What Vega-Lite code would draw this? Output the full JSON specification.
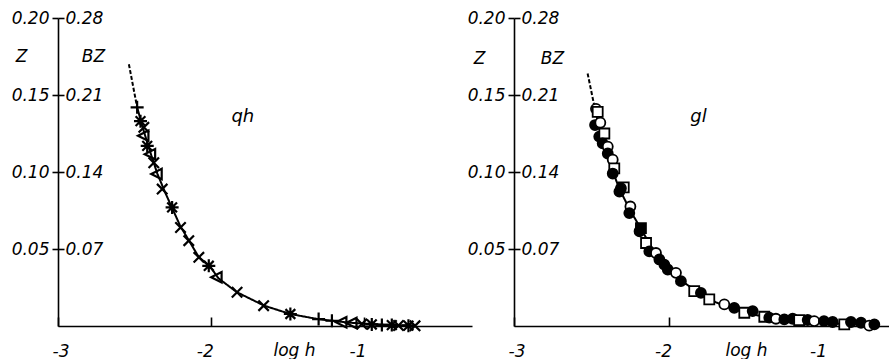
{
  "$schema": "https://vega.github.io/schema/vega-lite/v6.json",
  "padding": {"left": 11, "top": 9, "right": 0, "bottom": 0},
  "background": "white",
  "bounds": "flush",
  "spacing": 42,
  "resolve": {"scale": {"shape": "independent", "fill": "independent", "strokeDash": "independent"}},
  "config": {
    "view": {"stroke": null},
    "font": "DejaVu Sans",
    "axis": {
      "grid": false,
      "labelFont": "DejaVu Sans",
      "labelFontStyle": "italic",
      "labelFontSize": 17,
      "labelColor": "black",
      "titleFont": "DejaVu Sans",
      "titleFontStyle": "italic",
      "titleFontWeight": "normal",
      "titleFontSize": 17,
      "titleColor": "black",
      "domainColor": "black",
      "domainWidth": 1.6,
      "tickColor": "black",
      "tickWidth": 1.6
    }
  },
  "datasets": {
    "qh_curve": [
      {"logh": -2.536, "Z": 0.170, "seg": "dash"},
      {"logh": -2.482, "Z": 0.142, "seg": "dash"},
      {"logh": -2.482, "Z": 0.142, "seg": "solid"},
      {"logh": -2.44, "Z": 0.127, "seg": "solid"},
      {"logh": -2.39, "Z": 0.111, "seg": "solid"},
      {"logh": -2.35, "Z": 0.099, "seg": "solid"},
      {"logh": -2.30, "Z": 0.087, "seg": "solid"},
      {"logh": -2.25, "Z": 0.076, "seg": "solid"},
      {"logh": -2.20, "Z": 0.065, "seg": "solid"},
      {"logh": -2.14, "Z": 0.055, "seg": "solid"},
      {"logh": -2.08, "Z": 0.045, "seg": "solid"},
      {"logh": -2.00, "Z": 0.038, "seg": "solid"},
      {"logh": -1.95, "Z": 0.031, "seg": "solid"},
      {"logh": -1.83, "Z": 0.022, "seg": "solid"},
      {"logh": -1.65, "Z": 0.0132, "seg": "solid"},
      {"logh": -1.48, "Z": 0.0078, "seg": "solid"},
      {"logh": -1.30, "Z": 0.0045, "seg": "solid"},
      {"logh": -1.10, "Z": 0.0022, "seg": "solid"},
      {"logh": -0.90, "Z": 0.0010, "seg": "solid"},
      {"logh": -0.66, "Z": 0.0002, "seg": "solid"}
    ],
    "qh_pts": [
      {"logh": -2.482, "Z": 0.142, "sym": "plus"},
      {"logh": -2.460, "Z": 0.133, "sym": "star"},
      {"logh": -2.438, "Z": 0.129, "sym": "x"},
      {"logh": -2.438, "Z": 0.1235, "sym": "tri"},
      {"logh": -2.416, "Z": 0.117, "sym": "star"},
      {"logh": -2.394, "Z": 0.1116, "sym": "tri"},
      {"logh": -2.373, "Z": 0.106, "sym": "x"},
      {"logh": -2.351, "Z": 0.0987, "sym": "tri"},
      {"logh": -2.318, "Z": 0.0889, "sym": "x"},
      {"logh": -2.253, "Z": 0.077, "sym": "star"},
      {"logh": -2.198, "Z": 0.064, "sym": "x"},
      {"logh": -2.144, "Z": 0.0554, "sym": "x"},
      {"logh": -2.078, "Z": 0.0446, "sym": "x"},
      {"logh": -2.013, "Z": 0.0391, "sym": "star"},
      {"logh": -1.959, "Z": 0.0316, "sym": "tri"},
      {"logh": -1.828, "Z": 0.0219, "sym": "x"},
      {"logh": -1.654, "Z": 0.0132, "sym": "x"},
      {"logh": -1.479, "Z": 0.0078, "sym": "star"},
      {"logh": -1.294, "Z": 0.0045, "sym": "plus"},
      {"logh": -1.207, "Z": 0.0034, "sym": "plus"},
      {"logh": -1.142, "Z": 0.0024, "sym": "tri"},
      {"logh": -1.076, "Z": 0.0019, "sym": "tri"},
      {"logh": -1.011, "Z": 0.0013, "sym": "x"},
      {"logh": -0.946, "Z": 0.0010, "sym": "star"},
      {"logh": -0.880, "Z": 0.0007, "sym": "plus"},
      {"logh": -0.815, "Z": 0.0006, "sym": "star"},
      {"logh": -0.771, "Z": 0.0003, "sym": "x"},
      {"logh": -0.706, "Z": 0.0002, "sym": "star"},
      {"logh": -0.663, "Z": 0.0001, "sym": "x"}
    ],
    "gl_curve": [
      {"logh": -2.525, "Z": 0.164, "part": "dash"},
      {"logh": -2.48, "Z": 0.142, "part": "dash"},
      {"logh": -2.48, "Z": 0.142, "part": "solid"},
      {"logh": -2.43, "Z": 0.120, "part": "solid"},
      {"logh": -2.38, "Z": 0.105, "part": "solid"},
      {"logh": -2.32, "Z": 0.089, "part": "solid"},
      {"logh": -2.25, "Z": 0.075, "part": "solid"},
      {"logh": -2.18, "Z": 0.063, "part": "solid"},
      {"logh": -2.10, "Z": 0.049, "part": "solid"},
      {"logh": -2.00, "Z": 0.037, "part": "solid"},
      {"logh": -1.90, "Z": 0.028, "part": "solid"},
      {"logh": -1.80, "Z": 0.021, "part": "solid"},
      {"logh": -1.70, "Z": 0.0155, "part": "solid"},
      {"logh": -1.60, "Z": 0.0115, "part": "solid"},
      {"logh": -1.50, "Z": 0.0085, "part": "solid"},
      {"logh": -1.40, "Z": 0.0063, "part": "solid"},
      {"logh": -1.30, "Z": 0.0047, "part": "solid"},
      {"logh": -1.20, "Z": 0.0035, "part": "solid"},
      {"logh": -1.10, "Z": 0.0027, "part": "solid"},
      {"logh": -1.00, "Z": 0.0020, "part": "solid"},
      {"logh": -0.90, "Z": 0.0015, "part": "solid"},
      {"logh": -0.80, "Z": 0.0011, "part": "solid"},
      {"logh": -0.68, "Z": 0.0008, "part": "solid"}
    ],
    "gl_pts": [
      {"logh": -2.471, "Z": 0.141, "kind": "oc"},
      {"logh": -2.460, "Z": 0.139, "kind": "os"},
      {"logh": -2.477, "Z": 0.1305, "kind": "fc"},
      {"logh": -2.443, "Z": 0.132, "kind": "oc"},
      {"logh": -2.450, "Z": 0.123, "kind": "fc"},
      {"logh": -2.417, "Z": 0.125, "kind": "os"},
      {"logh": -2.428, "Z": 0.1186, "kind": "fc"},
      {"logh": -2.395, "Z": 0.1165, "kind": "oc"},
      {"logh": -2.395, "Z": 0.112, "kind": "fc"},
      {"logh": -2.363, "Z": 0.108, "kind": "oc"},
      {"logh": -2.353, "Z": 0.1024, "kind": "os"},
      {"logh": -2.363, "Z": 0.099, "kind": "fc"},
      {"logh": -2.292, "Z": 0.090, "kind": "os"},
      {"logh": -2.310, "Z": 0.0895, "kind": "fc"},
      {"logh": -2.320, "Z": 0.0873, "kind": "fc"},
      {"logh": -2.249, "Z": 0.0776, "kind": "oc"},
      {"logh": -2.256, "Z": 0.0733, "kind": "fc"},
      {"logh": -2.181, "Z": 0.0636, "kind": "fs"},
      {"logh": -2.190, "Z": 0.0615, "kind": "fc"},
      {"logh": -2.148, "Z": 0.0539, "kind": "os"},
      {"logh": -2.127, "Z": 0.0485, "kind": "fc"},
      {"logh": -2.084, "Z": 0.0474, "kind": "oc"},
      {"logh": -2.062, "Z": 0.0432, "kind": "fc"},
      {"logh": -2.030, "Z": 0.0399, "kind": "fc"},
      {"logh": -2.008, "Z": 0.0367, "kind": "fc"},
      {"logh": -1.955, "Z": 0.0345, "kind": "oc"},
      {"logh": -1.923, "Z": 0.0291, "kind": "fc"},
      {"logh": -1.837, "Z": 0.0226, "kind": "os"},
      {"logh": -1.794, "Z": 0.0215, "kind": "fc"},
      {"logh": -1.740, "Z": 0.0173, "kind": "os"},
      {"logh": -1.643, "Z": 0.0140, "kind": "oc"},
      {"logh": -1.579, "Z": 0.0118, "kind": "fc"},
      {"logh": -1.514, "Z": 0.0086, "kind": "os"},
      {"logh": -1.460, "Z": 0.0097, "kind": "fc"},
      {"logh": -1.385, "Z": 0.0060, "kind": "os"},
      {"logh": -1.353, "Z": 0.0054, "kind": "fc"},
      {"logh": -1.310, "Z": 0.0047, "kind": "oc"},
      {"logh": -1.256, "Z": 0.0043, "kind": "fc"},
      {"logh": -1.202, "Z": 0.0047, "kind": "fc"},
      {"logh": -1.160, "Z": 0.0038, "kind": "os"},
      {"logh": -1.105, "Z": 0.0039, "kind": "fc"},
      {"logh": -1.063, "Z": 0.0032, "kind": "oc"},
      {"logh": -1.000, "Z": 0.0032, "kind": "fc"},
      {"logh": -0.944, "Z": 0.0026, "kind": "fc"},
      {"logh": -0.869, "Z": 0.0011, "kind": "os"},
      {"logh": -0.826, "Z": 0.0026, "kind": "fc"},
      {"logh": -0.761, "Z": 0.0021, "kind": "fc"},
      {"logh": -0.708, "Z": 0.0002, "kind": "oc"},
      {"logh": -0.675, "Z": 0.0011, "kind": "fc"}
    ],
    "qh_label": [{"logh": -1.79, "Z": 0.136, "text": "qh"}],
    "gl_label": [{"logh": -1.81, "Z": 0.136, "text": "gl"}]
  },
  "hconcat": [
    {
      "width": 414,
      "height": 308,
      "resolve": {"axis": {"y": "independent"}},
      "layer": [
        {
          "data": {"name": "qh_curve"},
          "mark": {"type": "line", "color": "black", "strokeWidth": 2},
          "encoding": {
            "x": {"field": "logh", "type": "quantitative", "scale": {"domain": [-3, -0.29], "nice": false, "zero": false},
              "axis": {"values": [-3, -2, -1], "labelExpr": "'-' + abs(datum.value)", "tickSize": -9, "labelPadding": 26, "labelOffset": -6, "title": "log h", "titleX": 236, "titleY": 16, "titleAlign": "center", "titleBaseline": "top"}},
            "y": {"field": "Z", "type": "quantitative", "scale": {"domain": [0, 0.2], "nice": false},
              "axis": {"orient": "left", "values": [0.05, 0.1, 0.15, 0.2], "format": ".2f", "tickSize": 6, "labelPadding": 3, "title": "Z", "titleAngle": 0, "titleX": -37, "titleY": 38, "titleAlign": "center", "titleBaseline": "middle"}},
            "strokeDash": {"field": "seg", "type": "nominal", "scale": {"domain": ["dash", "solid"], "range": [[4, 2], [1, 0]]}, "legend": null}
          }
        },
        {
          "data": {"name": "qh_pts"},
          "mark": {"type": "point", "filled": false, "stroke": "black", "strokeWidth": 2.2, "size": 170, "opacity": 1},
          "encoding": {
            "x": {"field": "logh", "type": "quantitative"},
            "y": {"field": "Z", "type": "quantitative",
              "axis": {"orient": "right", "offset": -414, "domain": false, "values": [0.05, 0.1, 0.15, 0.2], "labelExpr": "format(datum.value * 1.4, '.2f')", "tickSize": 6, "labelPadding": 1, "title": "BZ", "titleAngle": 0, "titleX": 35, "titleY": 38, "titleAlign": "center", "titleBaseline": "middle"}},
            "shape": {"field": "sym", "type": "nominal", "legend": null,
              "scale": {"domain": ["plus", "x", "star", "tri"],
                "range": ["M-1,0L1,0M0,-1L0,1", "M-0.8,-0.8L0.8,0.8M-0.8,0.8L0.8,-0.8", "M-1,0L1,0M0,-1L0,1M-0.75,-0.75L0.75,0.75M-0.75,0.75L0.75,-0.75", "M-0.9,0L0.7,-0.8L0.7,0.8Z"]}}
          }
        },
        {
          "data": {"name": "qh_label"},
          "mark": {"type": "text", "font": "DejaVu Sans", "fontStyle": "italic", "fontSize": 18, "color": "black"},
          "encoding": {
            "x": {"field": "logh", "type": "quantitative"},
            "y": {"field": "Z", "type": "quantitative", "axis": null},
            "text": {"field": "text"}
          }
        }
      ]
    },
    {
      "width": 376,
      "height": 308,
      "resolve": {"axis": {"y": "independent"}},
      "layer": [
        {
          "data": {"name": "gl_curve"},
          "mark": {"type": "line", "color": "black", "strokeWidth": 2},
          "encoding": {
            "x": {"field": "logh", "type": "quantitative", "scale": {"domain": [-3, -0.574], "nice": false, "zero": false},
              "axis": {"values": [-3, -2, -1], "labelExpr": "'-' + abs(datum.value)", "tickSize": -9, "labelPadding": 26, "labelOffset": -6, "title": "log h", "titleX": 232, "titleY": 16, "titleAlign": "center", "titleBaseline": "top"}},
            "y": {"field": "Z", "type": "quantitative", "scale": {"domain": [0, 0.2], "nice": false},
              "axis": {"orient": "left", "values": [0.05, 0.1, 0.15, 0.2], "format": ".2f", "tickSize": 6, "labelPadding": 3, "title": "Z", "titleAngle": 0, "titleX": -35, "titleY": 40, "titleAlign": "center", "titleBaseline": "middle"}},
            "strokeDash": {"field": "part", "type": "nominal", "scale": {"domain": ["dash", "solid"], "range": [[4, 2], [1, 0]]}, "legend": null}
          }
        },
        {
          "data": {"name": "gl_pts"},
          "mark": {"type": "point", "filled": true, "stroke": "black", "strokeWidth": 1.8, "size": 100, "opacity": 1},
          "encoding": {
            "x": {"field": "logh", "type": "quantitative"},
            "y": {"field": "Z", "type": "quantitative",
              "axis": {"orient": "right", "offset": -376, "domain": false, "values": [0.05, 0.1, 0.15, 0.2], "labelExpr": "format(datum.value * 1.4, '.2f')", "tickSize": 6, "labelPadding": 1, "title": "BZ", "titleAngle": 0, "titleX": 38, "titleY": 40, "titleAlign": "center", "titleBaseline": "middle"}},
            "shape": {"field": "kind", "type": "nominal", "legend": null,
              "scale": {"domain": ["fc", "oc", "os", "fs"], "range": ["circle", "circle", "square", "square"]}},
            "fill": {"field": "kind", "type": "nominal", "legend": null,
              "scale": {"domain": ["fc", "oc", "os", "fs"], "range": ["black", "white", "white", "black"]}}
          }
        },
        {
          "data": {"name": "gl_label"},
          "mark": {"type": "text", "font": "DejaVu Sans", "fontStyle": "italic", "fontSize": 18, "color": "black"},
          "encoding": {
            "x": {"field": "logh", "type": "quantitative"},
            "y": {"field": "Z", "type": "quantitative", "axis": null},
            "text": {"field": "text"}
          }
        }
      ]
    }
  ]
}
